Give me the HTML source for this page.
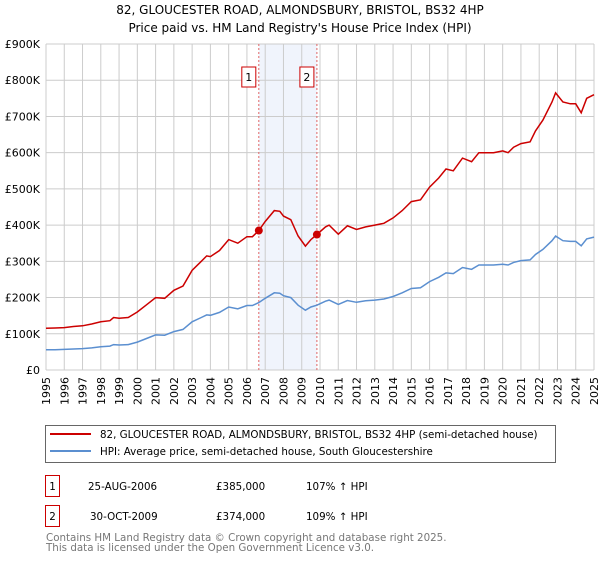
<!DOCTYPE html>
<html><head><meta charset="utf-8"><style>
body{margin:0;background:#fff;font-family:"Liberation Sans","DejaVu Sans",sans-serif;}
svg text{font-family:"DejaVu Sans","Liberation Sans",sans-serif;}
</style></head><body>
<svg id="c" width="600" height="560" xmlns="http://www.w3.org/2000/svg">
<text x="300" y="14" font-size="12" text-anchor="middle" fill="#000">82, GLOUCESTER ROAD, ALMONDSBURY, BRISTOL, BS32 4HP</text>
<text x="300" y="32" font-size="12" text-anchor="middle" fill="#000">Price paid vs. HM Land Registry's House Price Index (HPI)</text>
<g id="plot"></g>
<rect x="45.5" y="425.5" width="510" height="37" fill="#fff" stroke="#666"/>
<line x1="50" y1="434" x2="91" y2="434" stroke="#cc0000" stroke-width="2"/>
<text x="100" y="438" font-size="10.3">82, GLOUCESTER ROAD, ALMONDSBURY, BRISTOL, BS32 4HP (semi-detached house)</text>
<line x1="50" y1="451" x2="91" y2="451" stroke="#5b8fd0" stroke-width="2"/>
<text x="100" y="455" font-size="10.3">HPI: Average price, semi-detached house, South Gloucestershire</text>
<g>
<rect x="45.5" y="475.5" width="14" height="21" fill="none" stroke="#cc0000"/>
<text x="52.5" y="490" font-size="10.3" text-anchor="middle">1</text>
<text x="88" y="490" font-size="10.3">25-AUG-2006</text>
<text x="216" y="490" font-size="10.3">£385,000</text>
<text x="306" y="490" font-size="10.3">107% ↑ HPI</text>
</g>
<g>
<rect x="45.5" y="505.5" width="14" height="21" fill="none" stroke="#cc0000"/>
<text x="52.5" y="520" font-size="10.3" text-anchor="middle">2</text>
<text x="90" y="520" font-size="10.3">30-OCT-2009</text>
<text x="216" y="520" font-size="10.3">£374,000</text>
<text x="306" y="520" font-size="10.3">109% ↑ HPI</text>
</g>
<text x="46" y="541" font-size="10.3" fill="#777">Contains HM Land Registry data © Crown copyright and database right 2025.</text>
<text x="46" y="551" font-size="10.3" fill="#777">This data is licensed under the Open Government Licence v3.0.</text>
</svg>
<script>
const years=[1995,1995.5,1996,1996.5,1997,1997.5,1998,1998.5,1998.7,1999,1999.5,2000,2000.5,2001,2001.5,2002,2002.5,2003,2003.5,2003.8,2004,2004.5,2005,2005.5,2006,2006.3,2006.65,2007,2007.5,2007.8,2008,2008.4,2008.8,2009.2,2009.5,2009.83,2010.3,2010.5,2011,2011.5,2012,2012.5,2013,2013.5,2014,2014.5,2015,2015.5,2016,2016.5,2016.9,2017.3,2017.8,2018.3,2018.7,2019,2019.5,2020,2020.3,2020.6,2021,2021.5,2021.8,2022.2,2022.7,2022.9,2023.3,2023.7,2024,2024.3,2024.6,2025];
const priceK=[115,116,117,120,122,127,133,136,145,143,145,160,180,200,198,220,232,275,300,315,313,330,360,350,368,368,385,410,440,438,425,415,370,342,360,374,395,400,375,398,388,395,400,405,420,440,465,470,505,530,555,550,585,575,600,600,600,605,600,615,625,630,660,690,740,765,740,735,735,710,750,760];
const hpiK=[56,56,57,58,59,61,64,66,70,69,70,77,87,97,96,106,112,133,145,152,151,159,174,169,178,178,186,198,213,212,205,200,179,165,174,179,190,193,181,192,187,191,193,196,203,213,225,227,244,256,268,266,283,278,290,290,290,292,290,297,302,304,319,333,357,370,357,355,355,343,362,367];
const saleYears=[2006.65,2009.83];
const salePricesK=[385,374];
const saleLabels=["1","2"];
const yTicksK=[0,100,200,300,400,500,600,700,800,900];
const yTickLabels=["£0","£100K","£200K","£300K","£400K","£500K","£600K","£700K","£800K","£900K"];
const xTickYears=[1995,1996,1997,1998,1999,2000,2001,2002,2003,2004,2005,2006,2007,2008,2009,2010,2011,2012,2013,2014,2015,2016,2017,2018,2019,2020,2021,2022,2023,2024,2025];

const X0=46,X1=594,Y0=370,Y1=44;
const xs=y=>X0+(y-1995)/30*(X1-X0);
const ys=v=>Y0-v/900*(Y0-Y1);
const NS="http://www.w3.org/2000/svg";
const g=document.getElementById('plot');
function mk(t,a){const e=document.createElementNS(NS,t);for(const k in a)e.setAttribute(k,a[k]);g.appendChild(e);return e;}

const shade=mk('rect',{x:xs(saleYears[0]),y:Y1,width:xs(saleYears[1])-xs(saleYears[0]),height:Y0-Y1,fill:'#f0f4fc'});


xTickYears.forEach(yr=>{
  const l=mk('line',{x1:xs(yr),x2:xs(yr),y1:Y1,y2:Y0,stroke:'#ccc','stroke-width':1});
  
  
  const t=mk('text',{x:0,y:0,'font-size':11,'text-anchor':'end',transform:`translate(${xs(yr)+4},${Y0+7}) rotate(-90)`});
  t.textContent=yr;
  
  
});
yTicksK.forEach((v,i)=>{
  const l=mk('line',{x1:X0,x2:X1,y1:ys(v),y2:ys(v),stroke:'#ccc','stroke-width':1});
  
  
  const t=mk('text',{x:X0-6,y:ys(v)+4,'font-size':11,'text-anchor':'end'});
  t.textContent=yTickLabels[i];
  
  
});
saleYears.forEach((yr,i)=>{
  const l=mk('line',{x1:xs(yr),x2:xs(yr),y1:Y1,y2:Y0,stroke:'#e06666','stroke-width':1,'stroke-dasharray':'2,2'});
  
  
  const r=mk('rect',{x:xs(yr)-17,y:67,width:14,height:20,fill:'#fff',stroke:'#cc0000'});
  
  
  const t=mk('text',{x:xs(yr)-10,y:81,'font-size':11,'text-anchor':'middle'});
  t.textContent=saleLabels[i];
  
  
});
const pts=a=>years.map((y,i)=>xs(y).toFixed(1)+','+ys(a[i]).toFixed(1)).join(' ');
const hl=mk('polyline',{points:pts(hpiK),fill:'none',stroke:'#5b8fd0','stroke-width':1.5});


const pl=mk('polyline',{points:pts(priceK),fill:'none',stroke:'#cc0000','stroke-width':1.5});


saleYears.forEach((yr,i)=>{
  const c=mk('circle',{cx:xs(yr),cy:ys(salePricesK[i]),r:4,fill:'#cc0000'});
  
  
});
</script>
</body></html>
